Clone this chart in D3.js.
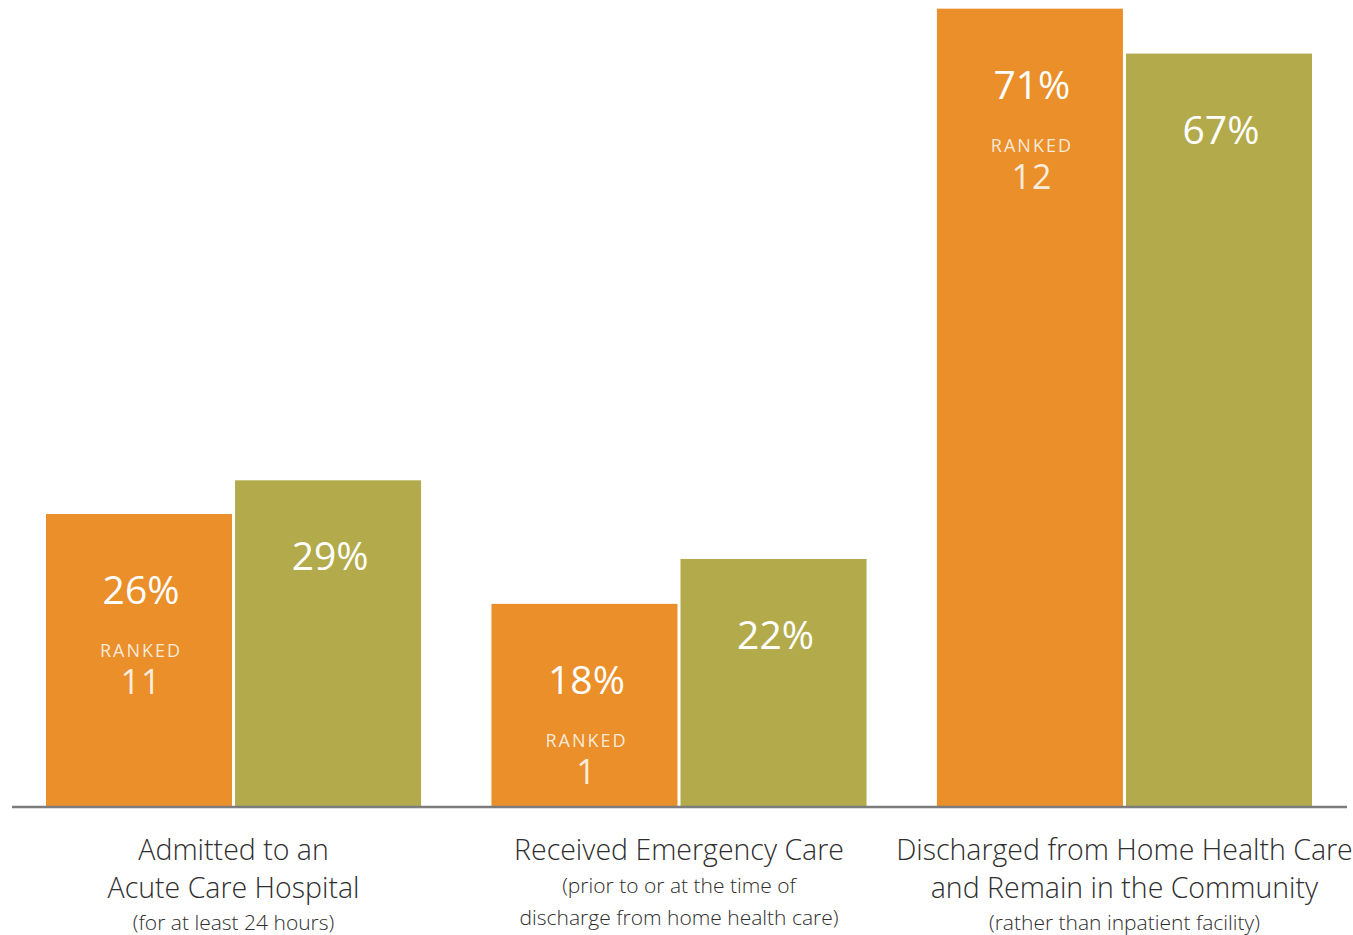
<!DOCTYPE html>
<html>
<head>
<meta charset="utf-8">
<script src="https://cdn.jsdelivr.net/npm/d3@7"></script>
<style>
  html, body { margin: 0; padding: 0; background: #fff; }
  svg { display: block; }
</style>
</head>
<body>
<svg id="chart" width="1353" height="935"></svg>
<script>
// Outcome measures: agency value vs. comparison value, with agency rank
const categories = ["admitted", "emergency", "discharged"];
const categoryLines = [
  ["Admitted to an", "Acute Care Hospital"],
  ["Received Emergency Care"],
  ["Discharged from Home Health Care", "and Remain in the Community"]
];
const categoryNotes = [
  ["(for at least 24 hours)"],
  ["(prior to or at the time of", "discharge from home health care)"],
  ["(rather than inpatient facility)"]
];
const series = ["agency", "comparison"];
const agencyValues = [26, 18, 71];
const comparisonValues = [29, 22, 67];
const agencyRanks = [11, 1, 12];

const colors = { agency: "#EA8F2A", comparison: "#B3AA4B" };
const font = "'Open Sans', 'Noto Sans', sans-serif";

const svg = d3.select("#chart");
const baseline = 806;

const x0 = d3.scaleBand().domain(categories).range([46, 1312])
  .paddingInner(0.158).paddingOuter(0);
const x1 = d3.scaleBand().domain(series).range([0, x0.bandwidth()])
  .paddingInner(0.016).paddingOuter(0);
const y = d3.scaleLinear().domain([0, 100]).range([baseline, baseline - 1123]);

const rows = categories.map((c, i) => ({
  cat: c, i,
  values: [
    { key: "agency", v: agencyValues[i], rank: agencyRanks[i] },
    { key: "comparison", v: comparisonValues[i] }
  ]
}));

const groups = svg.selectAll("g.grp").data(rows).join("g")
  .attr("class", "grp")
  .attr("transform", d => `translate(${x0(d.cat)},0)`);

const bars = groups.selectAll("g.bar").data(d => d.values).join("g").attr("class", "bar");

bars.append("rect")
  .attr("x", d => x1(d.key))
  .attr("y", d => y(d.v))
  .attr("width", x1.bandwidth())
  .attr("height", d => y(0) - y(d.v))
  .attr("fill", d => colors[d.key]);

bars.append("text")
  .attr("x", d => x1(d.key) + x1.bandwidth() / 2 + 2)
  .attr("y", d => y(d.v) + 90)
  .attr("text-anchor", "middle")
  .attr("font-family", font)
  .attr("font-size", 39)
  .attr("fill", "#fff")
  .text(d => d.v + "%");

const ranked = bars.filter(d => d.rank != null);
ranked.append("text")
  .attr("x", d => x1(d.key) + x1.bandwidth() / 2 + 2)
  .attr("y", d => y(d.v) + 143)
  .attr("text-anchor", "middle")
  .attr("font-family", font)
  .attr("font-size", 18)
  .attr("letter-spacing", "2px")
  .attr("fill", "rgba(255,255,255,0.82)")
  .text("RANKED");
ranked.append("text")
  .attr("x", d => x1(d.key) + x1.bandwidth() / 2 + 2)
  .attr("y", d => y(d.v) + 180)
  .attr("text-anchor", "middle")
  .attr("font-family", font)
  .attr("font-size", 34)
  .attr("letter-spacing", "1px")
  .attr("fill", "rgba(255,255,255,0.85)")
  .text(d => d.rank);

// baseline
svg.append("line")
  .attr("x1", 12).attr("x2", 1347)
  .attr("y1", y(0) + 1).attr("y2", y(0) + 1)
  .attr("stroke", "#7d7d7d").attr("stroke-width", 2.5);

// category labels
const labels = svg.selectAll("g.lbl").data(rows).join("g")
  .attr("class", "lbl")
  .attr("transform", d => `translate(${x0(d.cat) + x0.bandwidth() / 2},0)`);

labels.each(function (d) {
  const g = d3.select(this);
  const lines = categoryLines[d.i];
  lines.forEach((t, k) => {
    g.append("text")
      .attr("y", 860 + k * 38)
      .attr("text-anchor", "middle")
      .attr("font-family", font)
      .attr("font-weight", 300)
      .attr("font-size", 28.5)
      .attr("fill", "#2e2e2e")
      .text(t);
  });
  const startY = lines.length === 1 ? 893 : 930;
  categoryNotes[d.i].forEach((t, k) => {
    g.append("text")
      .attr("y", startY + k * 32)
      .attr("text-anchor", "middle")
      .attr("font-family", font)
      .attr("font-weight", 300)
      .attr("font-size", 21)
      .attr("fill", "#2e2e2e")
      .text(t);
  });
});
</script>
</body>
</html>
